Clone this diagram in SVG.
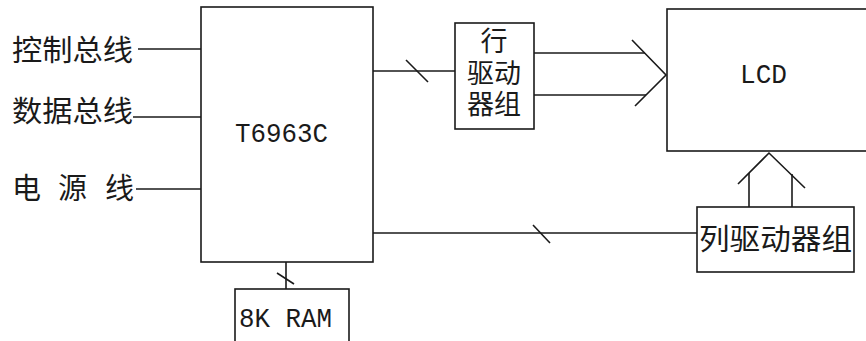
<svg xmlns="http://www.w3.org/2000/svg" width="866" height="341" viewBox="0 0 866 341">
<style>
.box{fill:#fff;stroke:#1a1a1a;stroke-width:1.6}
.ln{fill:none;stroke:#1a1a1a;stroke-width:1.6}
.cj{font-family:"Noto Sans CJK SC","Noto Sans",sans-serif;font-size:29px;fill:#1a1a1a}
.cs{font-family:"Noto Sans CJK SC","Noto Sans",sans-serif;font-size:27px;fill:#1a1a1a}
.mo{font-family:"Liberation Mono",monospace;font-size:28px;fill:#1a1a1a}
</style>
<rect width="866" height="341" fill="#fff"/>
<g id="labels">
<text class="cj" x="12" y="61" textLength="121" lengthAdjust="spacingAndGlyphs">控制总线</text>
<text class="cj" x="12" y="122" textLength="121" lengthAdjust="spacingAndGlyphs">数据总线</text>
<text class="cj" xml:space="preserve" x="12 41 58 88 105" y="199">电 源 线</text>
</g>
<g id="t6963c">
<rect class="box" x="201" y="7" width="172" height="255"/>
<text class="mo" x="235" y="142" textLength="93" lengthAdjust="spacingAndGlyphs">T6963C</text>
</g>
<g id="row-driver">
<rect class="box" x="455" y="23" width="79" height="106"/>
<text class="cs" text-anchor="middle"><tspan x="494" y="51">行</tspan><tspan x="494" y="83">驱动</tspan><tspan x="494" y="114">器组</tspan></text>
</g>
<g id="lcd">
<rect class="box" x="667" y="9" width="210" height="142"/>
<text class="mo" x="740" y="83" textLength="47" lengthAdjust="spacingAndGlyphs">LCD</text>
</g>
<g id="col-driver">
<rect class="box" x="697" y="207" width="157" height="65"/>
<text class="cj" x="699" y="250" textLength="153" lengthAdjust="spacingAndGlyphs">列驱动器组</text>
</g>
<g id="ram">
<rect class="box" x="235" y="289" width="114" height="70"/>
<text class="mo" x="239" y="327" textLength="93" lengthAdjust="spacingAndGlyphs">8K RAM</text>
</g>
<g id="connectors">
<line class="ln" x1="138" y1="49" x2="201" y2="49"/>
<line class="ln" x1="133" y1="117" x2="201" y2="117"/>
<line class="ln" x1="136" y1="189" x2="201" y2="189"/>
<line class="ln" x1="373" y1="71" x2="455" y2="71"/>
<line class="ln" x1="406" y1="60" x2="428" y2="82"/>
<line class="ln" x1="534" y1="53" x2="645" y2="53"/>
<line class="ln" x1="534" y1="95" x2="646" y2="95"/>
<polyline class="ln" points="632,40 666,75 635,106"/>
<line class="ln" x1="373" y1="233" x2="697" y2="233"/>
<line class="ln" x1="533" y1="225" x2="550" y2="243"/>
<line class="ln" x1="749" y1="207" x2="749" y2="173"/>
<line class="ln" x1="792" y1="207" x2="792" y2="174"/>
<polyline class="ln" points="738,184 769,153 805,188"/>
<line class="ln" x1="286" y1="262" x2="286" y2="289"/>
<line class="ln" x1="277" y1="273" x2="294" y2="284"/>
</g>
</svg>
